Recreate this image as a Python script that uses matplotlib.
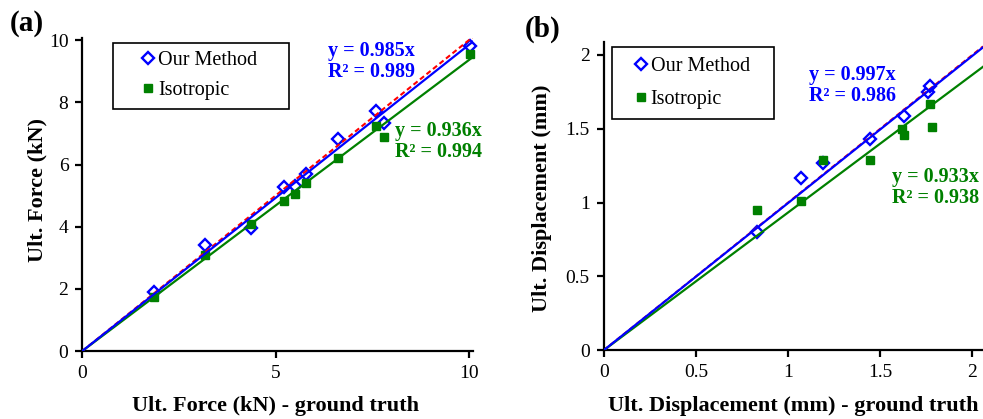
import matplotlib
matplotlib.use("Agg")
import matplotlib.pyplot as plt
import numpy as np

plt.rcParams['font.family'] = ['Liberation Serif', 'DejaVu Serif']

# ---------------- data ----------------
# (a) ultimate force (kN)
force_gt_ours = [1.85, 3.17, 4.36, 5.23, 5.50, 5.79, 6.61, 7.60, 7.81, 10.02]
force_ours = [1.90, 3.41, 3.95, 5.28, 5.30, 5.71, 6.83, 7.72, 7.34, 9.82]
force_gt_iso = [1.86, 3.18, 4.36, 5.23, 5.50, 5.78, 6.61, 7.60, 7.81, 10.02]
force_iso = [1.75, 3.09, 4.10, 4.81, 5.05, 5.41, 6.21, 7.23, 6.89, 9.57]
force_slope_ours = 0.985
force_r2_ours = 0.989
force_slope_iso = 0.936
force_r2_iso = 0.994

# (b) ultimate displacement (mm)
disp_gt_ours = [0.83, 1.07, 1.19, 1.445, 1.63, 1.76, 1.77]
disp_ours = [0.80, 1.17, 1.27, 1.43, 1.59, 1.75, 1.79]
disp_gt_iso = [0.83, 1.07, 1.19, 1.445, 1.62, 1.63, 1.77, 1.78]
disp_iso = [0.95, 1.01, 1.29, 1.29, 1.50, 1.46, 1.67, 1.51]
disp_slope_ours = 0.997
disp_r2_ours = 0.986
disp_slope_iso = 0.933
disp_r2_iso = 0.938

force_xticks = [0, 5, 10]
force_yticks = [0, 2, 4, 6, 8, 10]
disp_ticks = [0, 0.5, 1, 1.5, 2]
disp_ticklabels = ["0", "0.5", "1", "1.5", "2"]

BLUE = "#0000FF"
GREEN = "#008000"
RED = "#FF0000"

W, H = 983, 419
fig = plt.figure(figsize=(W / 100, H / 100), dpi=100)


def px_axes(l, r, b, t):
    return fig.add_axes([l / W, 1 - b / H, (r - l) / W, (b - t) / H])


axA = px_axes(82.3, 472.7, 351.0, 37.7)
axB = px_axes(603.7, 983.0, 350.3, 41.7)


def style(ax):
    for s in ['top', 'right']:
        ax.spines[s].set_visible(False)
    for s in ['left', 'bottom']:
        ax.spines[s].set_linewidth(1.6)
        ax.spines[s].set_color('black')
    ax.tick_params(direction='out', length=5, width=1.6, labelsize=14,
                   pad=5, color='black')


def draw(ax, gx_o, y_o, gx_i, y_i, s_o, s_i, xmax):
    xs = np.array([0.0, xmax])
    ax.plot(gx_o, y_o, linestyle='none', marker='D', ms=6, mfc='white',
            mec=BLUE, mew=1.7, zorder=2, label='Our Method', clip_on=False)
    ax.plot(gx_i, y_i, linestyle='none', marker='s', ms=5.5, mfc=GREEN,
            mec=GREEN, zorder=3, label='Isotropic', clip_on=False)
    ax.plot(xs, xs, color=RED, lw=1.5, dashes=(2.5, 1.5), zorder=4)
    ax.plot(xs, s_i * xs, color=GREEN, lw=1.6, zorder=4.1)
    ax.plot(xs, s_o * xs, color=BLUE, lw=1.6, zorder=4.2)


def legend(ax, x0, y0, w, handlelength, handletextpad, borderpad, labelspacing):
    leg = ax.legend(loc='upper left', bbox_to_anchor=(x0, y0, w, 0),
                    mode='expand', borderaxespad=0, fontsize=14.5,
                    handlelength=handlelength, handletextpad=handletextpad,
                    borderpad=borderpad, labelspacing=labelspacing,
                    fancybox=False, framealpha=1, edgecolor='black')
    leg.get_frame().set_linewidth(1.2)
    return leg


# ---- panel (a)
style(axA)
draw(axA, force_gt_ours, force_ours, force_gt_iso, force_iso,
     force_slope_ours, force_slope_iso, 10.1)
axA.set_xlim(0, 10.1)
axA.set_ylim(0, 10.08)
axA.set_xticks(force_xticks)
axA.set_yticks(force_yticks)
axA.set_xlabel("Ult. Force (kN) - ground truth", fontsize=16, fontweight='bold')
axA.set_ylabel("Ult. Force (kN)", fontsize=16, fontweight='bold')
axA.xaxis.set_label_coords(0.4936, -0.1905)
axA.xaxis.label.set_va('baseline')
axA.yaxis.set_label_coords(-0.116, 0.514)
axA.yaxis.label.set_va('center')
axA.text(0.629, 0.99, f"y = {force_slope_ours}x\nR² = {force_r2_ours}",
         transform=axA.transAxes, ha='left', va='top', color=BLUE,
         fontsize=14.5, fontweight='bold', linespacing=1.1)
axA.text(0.801, 0.735, f"y = {force_slope_iso}x\nR² = {force_r2_iso}",
         transform=axA.transAxes, ha='left', va='top', color=GREEN,
         fontsize=14.5, fontweight='bold', linespacing=1.1)
legend(axA, 0.078, 0.984, 0.451, 2.7, -0.85, 0.42, 0.55)

# ---- panel (b)
style(axB)
draw(axB, disp_gt_ours, disp_ours, disp_gt_iso, disp_iso,
     disp_slope_ours, disp_slope_iso, 2.058)
axB.set_xlim(0, 2.058)
axB.set_ylim(0, 2.09)
axB.set_xticks(disp_ticks)
axB.set_xticklabels(disp_ticklabels)
axB.set_yticks(disp_ticks)
axB.set_yticklabels(disp_ticklabels)
axB.set_xlabel("Ult. Displacement (mm) - ground truth", fontsize=16, fontweight='bold')
axB.set_ylabel("Ult. Displacement (mm)", fontsize=16, fontweight='bold')
axB.xaxis.set_label_coords(0.499, -0.1957)
axB.xaxis.label.set_va('baseline')
axB.yaxis.set_label_coords(-0.1635, 0.4925)
axB.yaxis.label.set_va('center')
axB.text(0.542, 0.925, f"y = {disp_slope_ours}x\nR² = {disp_r2_ours}",
         transform=axB.transAxes, ha='left', va='top', color=BLUE,
         fontsize=14.5, fontweight='bold', linespacing=1.1)
axB.text(0.761, 0.595, f"y = {disp_slope_iso}x\nR² = {disp_r2_iso}",
         transform=axB.transAxes, ha='left', va='top', color=GREEN,
         fontsize=14.5, fontweight='bold', linespacing=1.1)
legend(axB, 0.0227, 0.984, 0.4255, 1.8, -0.4, 0.5, 0.72)

fig.text(27 / W, 1 - 23.3 / H, "(a)", fontsize=21, fontweight='bold',
         ha='center', va='center')
fig.text(542.5 / W, 1 - 29 / H, "(b)", fontsize=21, fontweight='bold',
         ha='center', va='center')

fig.savefig("out.png", dpi=100)
